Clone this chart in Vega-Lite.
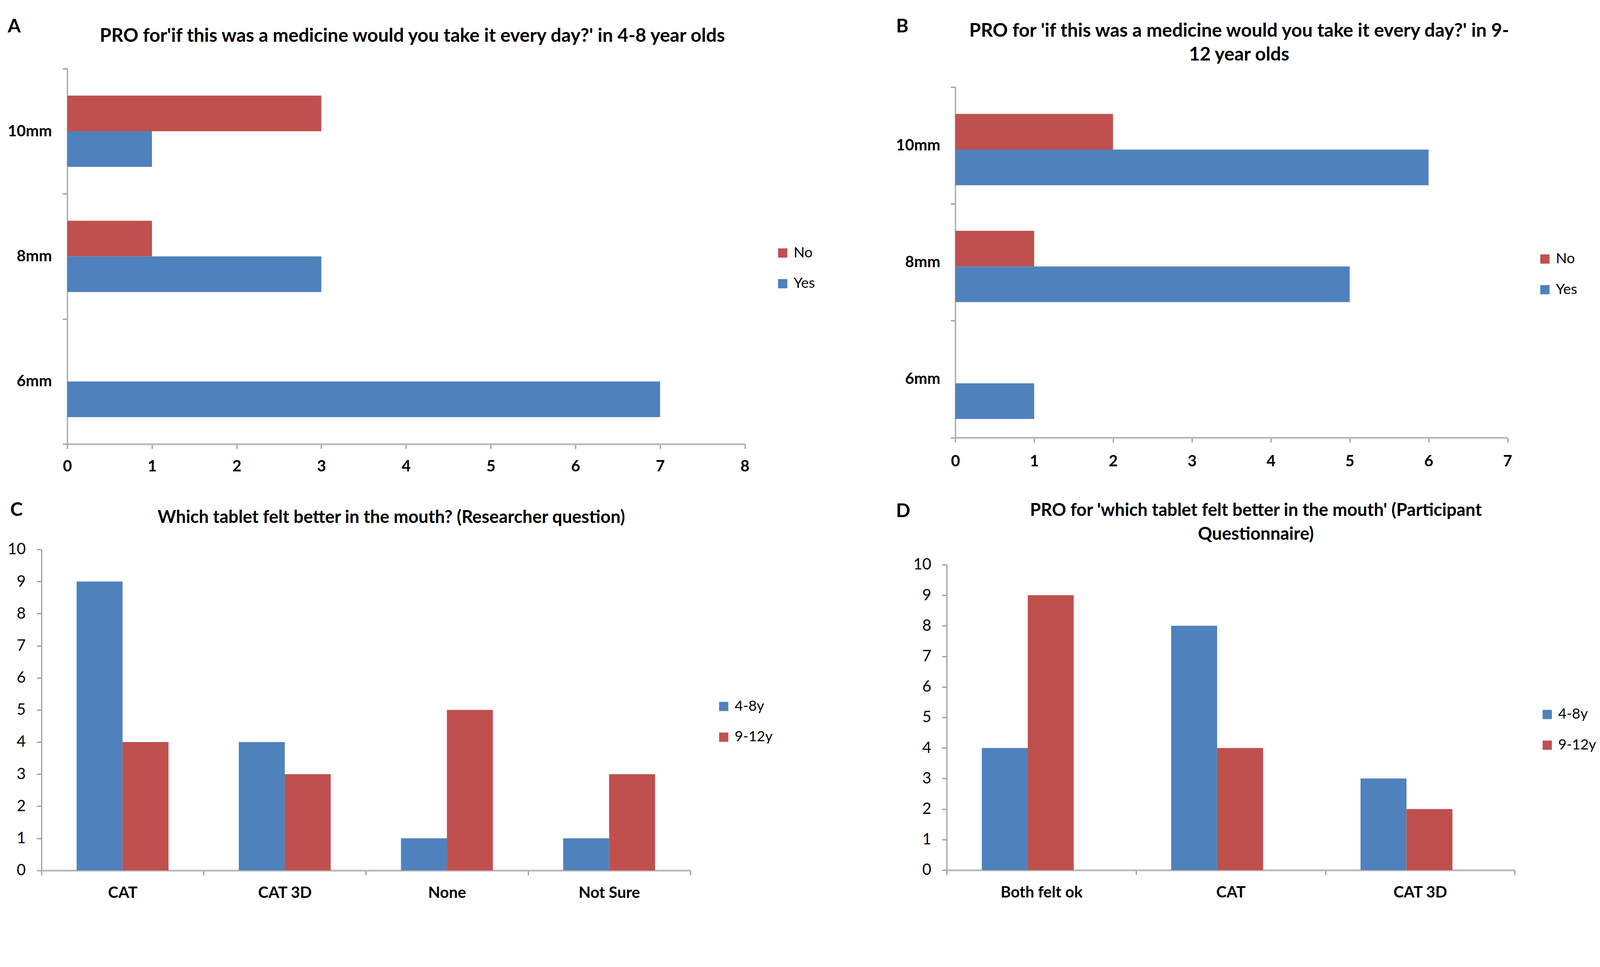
{
  "$schema": "https://vega.github.io/schema/vega-lite/v6.json",
  "background": "white",
  "padding": {"left": 12.2, "top": 42.9, "right": 5, "bottom": 5},
  "datasets": {
    "dA": [
      {"size": "10mm", "answer": "No", "count": 3},
      {"size": "10mm", "answer": "Yes", "count": 1},
      {"size": "8mm", "answer": "No", "count": 1},
      {"size": "8mm", "answer": "Yes", "count": 3},
      {"size": "6mm", "answer": "No", "count": 0},
      {"size": "6mm", "answer": "Yes", "count": 7}
    ],
    "dB": [
      {"size": "10mm", "answer": "No", "count": 2},
      {"size": "10mm", "answer": "Yes", "count": 6},
      {"size": "8mm", "answer": "No", "count": 1},
      {"size": "8mm", "answer": "Yes", "count": 5},
      {"size": "6mm", "answer": "No", "count": 0},
      {"size": "6mm", "answer": "Yes", "count": 1}
    ],
    "dC": [
      {"tablet": "CAT", "age": "4-8y", "count": 9},
      {"tablet": "CAT", "age": "9-12y", "count": 4},
      {"tablet": "CAT 3D", "age": "4-8y", "count": 4},
      {"tablet": "CAT 3D", "age": "9-12y", "count": 3},
      {"tablet": "None", "age": "4-8y", "count": 1},
      {"tablet": "None", "age": "9-12y", "count": 5},
      {"tablet": "Not Sure", "age": "4-8y", "count": 1},
      {"tablet": "Not Sure", "age": "9-12y", "count": 3}
    ],
    "dD": [
      {"tablet": "Both felt ok", "age": "4-8y", "count": 4},
      {"tablet": "Both felt ok", "age": "9-12y", "count": 9},
      {"tablet": "CAT", "age": "4-8y", "count": 8},
      {"tablet": "CAT", "age": "9-12y", "count": 4},
      {"tablet": "CAT 3D", "age": "4-8y", "count": 3},
      {"tablet": "CAT 3D", "age": "9-12y", "count": 2}
    ],
    "empty": []
  },
  "columns": 2,
  "align": "none",
  "spacing": 173.3,
  "resolve": {"scale": {"color": "independent"}, "legend": {"color": "independent"}},
  "concat": [
    {
      "columns": 2,
      "align": "none",
      "spacing": 0,
      "resolve": {"scale": {"color": "independent"}, "legend": {"color": "independent"}},
      "concat": [
        {"data": {"name": "empty"}, "mark": "point", "width": 5.2, "height": 1},
        {"data": {"name": "empty"}, "mark": "point", "width": 2100, "height": 1},
        {"data": {"name": "empty"}, "mark": "point", "width": 5.2, "height": 1},
        {
          "data": {"name": "dA"},
          "width": 1734.5,
          "height": 961,
          "title": {"text": "PRO for'if this was a medicine would you take it every day?' in 4-8 year olds", "dx": 16.1, "offset": -72.1},
          "mark": {"type": "bar"},
          "encoding": {
            "y": {"field": "size", "type": "nominal", "sort": ["10mm", "8mm", "6mm"],
              "scale": {"paddingInner": 0, "paddingOuter": 0},
              "axis": {"title": "A", "titleX": -153, "titleY": -131.3, "tickBand": "extent", "labelPadding": 27.7, "labelFontWeight": "bold"}},
            "yOffset": {"field": "answer", "type": "nominal", "sort": ["No", "Yes"], "scale": {"paddingInner": 0, "paddingOuter": 0.755}},
            "x": {"field": "count", "type": "quantitative", "scale": {"domain": [0, 8], "nice": false},
              "axis": {"title": " ", "titleFontSize": 10, "titlePadding": 56.4, "values": [0, 1, 2, 3, 4, 5, 6, 7, 8], "labelPadding": 25.9, "labelFontWeight": "bold"}},
            "color": {"field": "answer", "type": "nominal", "scale": {"domain": ["No", "Yes"], "range": ["#C0504D", "#4F81BD"]},
              "legend": {"title": null, "legendX": 1813, "legendY": 453.4}}
          }
        },
        {"data": {"name": "empty"}, "mark": "point", "width": 1, "height": 1},
        {
          "data": {"name": "dC"},
          "width": 1660.7,
          "height": 821.8,
          "title": {"text": "Which tablet felt better in the mouth? (Researcher question)", "dx": 65.3, "offset": -65.4, "fontSize": 45},
          "mark": {"type": "bar"},
          "encoding": {
            "x": {"field": "tablet", "type": "nominal", "sort": ["CAT", "CAT 3D", "None", "Not Sure"],
              "scale": {"paddingInner": 0, "paddingOuter": 0},
              "axis": {"title": null, "tickBand": "extent", "labelPadding": 26, "labelFontWeight": "bold", "labelAngle": 0}},
            "xOffset": {"field": "age", "type": "nominal", "sort": ["4-8y", "9-12y"], "scale": {"paddingInner": 0, "paddingOuter": 0.765}},
            "y": {"field": "count", "type": "quantitative", "scale": {"domain": [0, 10], "nice": false},
              "axis": {"title": "C", "titleX": -80.5, "titleY": -124.5, "values": [0, 1, 2, 3, 4, 5, 6, 7, 8, 9, 10], "labelPadding": 28.8}},
            "color": {"field": "age", "type": "nominal", "scale": {"domain": ["4-8y", "9-12y"], "range": ["#4F81BD", "#C0504D"]},
              "legend": {"title": null, "legendX": 1728, "legendY": 383.5}}
          }
        }
      ]
    },
    {
      "columns": 2,
      "align": "none",
      "spacing": 0,
      "resolve": {"scale": {"color": "independent"}, "legend": {"color": "independent"}},
      "concat": [
        {"data": {"name": "empty"}, "mark": "point", "width": 1, "height": 1},
        {"data": {"name": "empty"}, "mark": "point", "width": 1, "height": 1},
        {"data": {"name": "empty"}, "mark": "point", "width": 1, "height": 1},
        {
          "data": {"name": "dB"},
          "width": 1413.6,
          "height": 897.6,
          "title": {"text": ["PRO for 'if this was a medicine would you take it every day?' in 9-", "12 year olds"], "dx": 19.9, "offset": -121},
          "mark": {"type": "bar"},
          "encoding": {
            "y": {"field": "size", "type": "nominal", "sort": ["10mm", "8mm", "6mm"],
              "scale": {"paddingInner": 0, "paddingOuter": 0},
              "axis": {"title": "B", "titleX": -152, "titleY": -178.6, "tickBand": "extent", "labelPadding": 26.8, "labelFontWeight": "bold"}},
            "yOffset": {"field": "answer", "type": "nominal", "sort": ["No", "Yes"], "scale": {"paddingInner": 0, "paddingOuter": 0.765}},
            "x": {"field": "count", "type": "quantitative", "scale": {"domain": [0, 7], "nice": false},
              "axis": {"title": " ", "titleFontSize": 10, "titlePadding": 73.5, "values": [0, 1, 2, 3, 4, 5, 6, 7], "labelPadding": 28.7, "labelFontWeight": "bold"}},
            "color": {"field": "answer", "type": "nominal", "scale": {"domain": ["No", "Yes"], "range": ["#C0504D", "#4F81BD"]},
              "legend": {"title": null, "legendX": 1491, "legendY": 421.8}}
          }
        },
        {"data": {"name": "empty"}, "mark": "point", "width": 1, "height": 1},
        {
          "data": {"name": "dD"},
          "width": 1454.3,
          "height": 782.1,
          "title": {"text": ["PRO for 'which tablet felt better in the mouth' (Participant", "Questionnaire)"], "dx": 64.4, "offset": -106.1, "fontSize": 45},
          "mark": {"type": "bar"},
          "encoding": {
            "x": {"field": "tablet", "type": "nominal", "sort": ["Both felt ok", "CAT", "CAT 3D"],
              "scale": {"paddingInner": 0, "paddingOuter": 0},
              "axis": {"title": null, "tickBand": "extent", "labelPadding": 26, "labelFontWeight": "bold", "labelAngle": 0}},
            "xOffset": {"field": "age", "type": "nominal", "sort": ["4-8y", "9-12y"], "scale": {"paddingInner": 0, "paddingOuter": 0.765}},
            "y": {"field": "count", "type": "quantitative", "scale": {"domain": [0, 10], "nice": false},
              "axis": {"title": "D", "titleX": -130.2, "titleY": -160.5, "values": [0, 1, 2, 3, 4, 5, 6, 7, 8, 9, 10], "labelPadding": 27.7}},
            "color": {"field": "age", "type": "nominal", "scale": {"domain": ["4-8y", "9-12y"], "range": ["#4F81BD", "#C0504D"]},
              "legend": {"title": null, "legendX": 1519, "legendY": 365}}
          }
        }
      ]
    }
  ],
  "config": {
    "view": {"stroke": null},
    "font": "Lato",
    "title": {"font": "Lato", "fontSize": 48, "fontWeight": "bold", "color": "black", "anchor": "middle", "frame": "group", "baseline": "bottom", "lineHeight": 61},
    "axis": {
      "grid": false,
      "domainColor": "#A0A0A0", "domainWidth": 3,
      "tickColor": "#999999", "tickWidth": 3, "tickSize": 12,
      "labelFont": "Lato", "labelFontSize": 40, "labelColor": "black",
      "labelFlush": false, "labelOverlap": false, "labelLimit": 0,
      "titleFont": "Lato", "titleFontSize": 48, "titleFontWeight": "bold", "titleColor": "black",
      "titleAngle": 0, "titleAlign": "left", "titleBaseline": "top"
    },
    "axisX": {"domainWidth": 4.5, "domainColor": "#B8B8B8"},
    "legend": {
      "orient": "none", "symbolType": "square", "symbolSize": 561, "symbolStrokeWidth": 0,
      "labelFont": "Lato", "labelFontSize": 37, "labelColor": "black", "labelOffset": 9.5,
      "rowPadding": 40.6, "padding": 0
    }
  }
}
